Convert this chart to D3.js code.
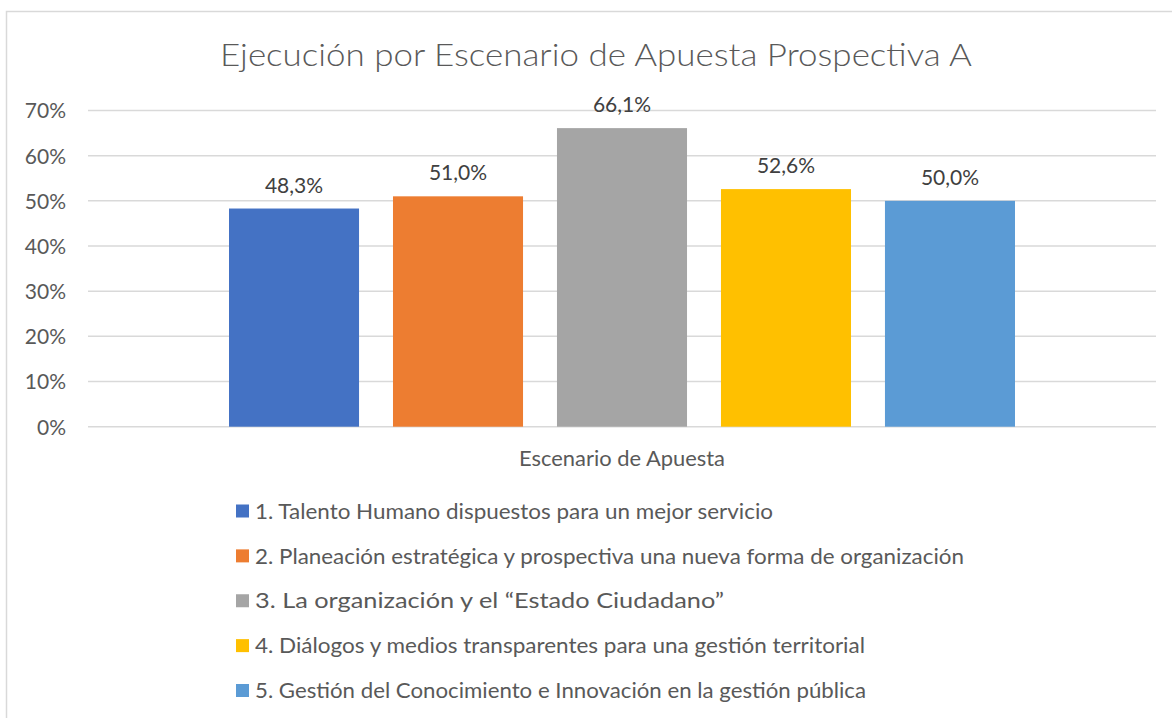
<!DOCTYPE html>
<html>
<head>
<meta charset="utf-8">
<script src="https://cdn.jsdelivr.net/npm/d3@7"></script>
<style>
  html, body { margin: 0; padding: 0; background: #ffffff; }
  svg { display: block; }
  text { font-family: Lato, "Open Sans", sans-serif; }
</style>
</head>
<body>
<svg id="chart" width="1172" height="718"></svg>
<script>
const title = "Ejecución por Escenario de Apuesta Prospectiva A";
const axisTitle = "Escenario de Apuesta";
const categories = [
  "1. Talento Humano dispuestos para un mejor servicio",
  "2. Planeación estratégica y prospectiva una nueva forma de organización",
  "3. La organización y el “Estado Ciudadano”",
  "4. Diálogos y medios transparentes para una gestión territorial",
  "5. Gestión del Conocimiento e Innovación en la gestión pública"
];
const values = [0.483, 0.510, 0.661, 0.526, 0.500];
const colors = ["#4472C4", "#ED7D31", "#A5A5A5", "#FFC000", "#5B9BD5"];
const yTicks = [0, 0.1, 0.2, 0.3, 0.4, 0.5, 0.6, 0.7];
const legendWidths = [520, 711, 471, 612, 613];

const svg = d3.select("#chart");

// chart border (extends beyond the visible frame on right/bottom)
svg.append("rect")
  .attr("x", 6.5).attr("y", 11.5)
  .attr("width", 1200).attr("height", 800)
  .attr("fill", "#fff").attr("stroke", "#D9D9D9").attr("stroke-width", 1.5);

const plotLeft = 88, plotRight = 1156;
const y = d3.scaleLinear().domain([0, 0.7]).range([426.7, 110.5]);
const x = d3.scaleBand().domain(d3.range(categories.length))
  .range([229, 1015]).paddingInner(0.207).paddingOuter(0);

// gridlines
svg.append("g").selectAll("line").data(yTicks).join("line")
  .attr("x1", plotLeft).attr("x2", plotRight)
  .attr("y1", d => y(d)).attr("y2", d => y(d))
  .attr("stroke", "#D9D9D9").attr("stroke-width", 1.5);

// y axis labels
const yAxis = d3.axisLeft(y).tickValues(yTicks)
  .tickFormat(d => Math.round(d * 100) + "%").tickSize(0).tickPadding(0);
const ga = svg.append("g").attr("transform", `translate(66,0)`).call(yAxis);
ga.select(".domain").remove();
ga.selectAll("text").attr("font-size", 21).attr("fill", "#595959")
  .attr("font-family", "Lato, 'Open Sans', sans-serif").attr("dy", "0.35em");

// bars
svg.append("g").selectAll("rect").data(values).join("rect")
  .attr("x", (d, i) => x(i)).attr("width", x.bandwidth())
  .attr("y", d => y(d)).attr("height", d => y(0) - y(d))
  .attr("fill", (d, i) => colors[i]);

// data labels
const fmt = d => (d * 100).toFixed(1).replace(".", ",") + "%";
svg.append("g").selectAll("text").data(values).join("text")
  .attr("x", (d, i) => x(i) + x.bandwidth() / 2)
  .attr("y", d => y(d) - 16)
  .attr("text-anchor", "middle").attr("font-size", 21).attr("fill", "#404040")
  .text(fmt);

// title
svg.append("text").attr("x", 596).attr("y", 66)
  .attr("text-anchor", "middle").attr("font-size", 32).attr("fill", "#595959")
  .attr("font-weight", 300)
  .attr("textLength", 752).attr("lengthAdjust", "spacingAndGlyphs")
  .text(title);

// axis title
svg.append("text").attr("x", 622).attr("y", 466)
  .attr("text-anchor", "middle").attr("font-size", 21).attr("fill", "#595959")
  .attr("textLength", 206).attr("lengthAdjust", "spacingAndGlyphs")
  .text(axisTitle);

// legend
const lg = svg.append("g");
const rowY = d3.scaleLinear().domain([0, 4]).range([511, 690.5]);
const rows = lg.selectAll("g").data(categories).join("g")
  .attr("transform", (d, i) => `translate(236,${rowY(i)})`);
rows.append("rect").attr("x", 0).attr("y", -6.5).attr("width", 13).attr("height", 13)
  .attr("fill", (d, i) => colors[i]);
rows.append("text").attr("x", 19).attr("y", 0).attr("dy", "0.35em")
  .attr("font-size", 22).attr("fill", "#595959")
  .attr("textLength", (d, i) => legendWidths[i] - 2).attr("lengthAdjust", "spacingAndGlyphs")
  .text(d => d);
</script>
</body>
</html>
